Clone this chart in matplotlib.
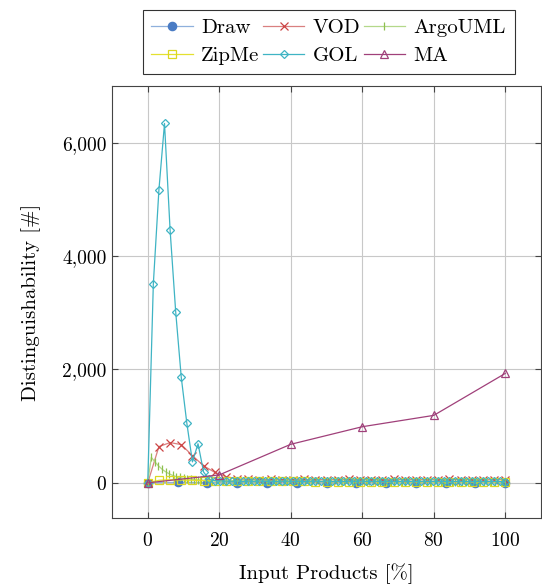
import numpy as np
import matplotlib
matplotlib.use("Agg")
import matplotlib.pyplot as plt
from matplotlib.ticker import FuncFormatter

plt.rcParams["font.family"] = ["cmr10", "DejaVu Serif"]
plt.rcParams["axes.formatter.use_mathtext"] = True
plt.rcParams["mathtext.fontset"] = "cm"

# values, x spread evenly from 0 to 100 %
draw = [0, 8, 6, 5, 4, 4, 3, 3, 2, 2, 2, 1, 1]
vod = [0, 640, 710, 675, 480, 300, 185, 110, 70, 60, 58, 60, 55, 58, 60, 56,
       58, 55, 60, 57, 58, 55, 60, 56, 58, 55, 57, 60, 56, 58, 55, 57, 55]
argouml = [0, 450, 370, 300, 240, 195, 160, 130, 110, 95, 82, 72, 64, 57, 52,
           48, 45, 42, 40, 38, 36, 35, 34, 33, 33, 32, 32, 31, 31, 30, 30, 30,
           29, 29, 29, 28, 28, 28, 28, 27, 27, 27, 27, 27, 26, 26, 26, 26, 26,
           26, 25, 25, 25, 25, 25, 25, 25, 24, 24, 24, 24, 24, 24, 24, 24, 23,
           23, 23, 23, 23, 23, 23, 23, 23, 22, 22, 22, 22, 22, 22, 22, 22, 22,
           22, 21, 21, 21, 21, 21, 21, 21, 21, 21, 21, 21, 20, 20, 20, 20, 20, 20]
zipme = [0, 45, 55, 50, 45, 40, 35, 30, 28, 27, 26, 25, 25, 24, 24, 23, 23,
         22, 22, 22, 21, 21, 21, 20, 20, 20, 20, 19, 19, 19, 19, 18, 18]
gol = [0, 3510, 5170, 6340, 4460, 3020, 1860, 1050, 370, 690, 190, 60, 40, 35,
       30, 28, 32, 25, 30, 27, 31, 26, 29, 24, 28, 30, 26, 27, 25, 29, 28, 26,
       30, 24, 27, 25, 28, 26, 29, 27, 25, 28, 24, 26, 27, 25, 28, 26, 24, 27,
       25, 26, 28, 24, 26, 25, 27, 24, 26, 25, 24, 26, 25, 24, 20]
ma_x = [0, 20, 40, 60, 80, 100]
ma = [0, 140, 680, 990, 1190, 1930]

series = [
    ("Draw", np.linspace(0, 100, len(draw)), draw, "#8fb0dc", "#4a7cc4", "o", True),
    ("VOD", np.linspace(0, 100, len(vod)), vod, "#d98080", "#cc4444", "x", False),
    ("ArgoUML", np.linspace(0, 100, len(argouml)), argouml, "#b4d88a", "#8fc050", "|", False),
    ("ZipMe", np.linspace(0, 100, len(zipme)), zipme, "#e4e030", "#dcd820", "s", False),
    ("GOL", np.linspace(0, 100, len(gol)), gol, "#3fb4c4", "#3fb4c4", "D", False),
    ("MA", ma_x, ma, "#a0407a", "#a0407a", "^", False),
]

fig = plt.figure(figsize=(5.42, 5.88), dpi=100)
ax = fig.add_axes([112 / 542, 70 / 588, 429 / 542, 432 / 588])

handles = {}
for name, x, y, lc, mc, mk, filled in series:
    ms = 4.5 if mk == "D" else 6
    ln, = ax.plot(x, y, color=lc, lw=0.9, marker=mk, markersize=ms,
                  markeredgecolor=mc, markerfacecolor=mc if filled else "none",
                  markeredgewidth=0.9, label=name)
    handles[name] = ln

ax.set_xlim(-10, 110)
ax.set_ylim(-620, 7000)
ax.set_xticks([0, 20, 40, 60, 80, 100])
ax.set_yticks([0, 2000, 4000, 6000])
ax.yaxis.set_major_formatter(FuncFormatter(lambda v, p: f"{v:,.0f}"))
ax.grid(True, color="#c8c8c8", lw=0.8)
ax.set_axisbelow(True)
ax.tick_params(direction="in", labelsize=14, length=4, top=True, right=True,
               color="#444444")
ax.tick_params(axis="x", pad=10)
ax.tick_params(axis="y", pad=4)
for s in ax.spines.values():
    s.set_color("#444444")

ax.set_xlabel("Input Products [%]", fontsize=15, labelpad=10)
ax.set_ylabel("Distinguishability [#]", fontsize=15, labelpad=15)

# matplotlib fills legend columns first, so order for a row-wise look
order = ["Draw", "ZipMe", "VOD", "GOL", "ArgoUML", "MA"]
leg = ax.legend([handles[n] for n in order], order, ncol=3, loc="lower center",
                bbox_to_anchor=(0.505, 1.028), borderaxespad=0, fontsize=15,
                frameon=True, fancybox=False, edgecolor="black",
                handlelength=2.0, columnspacing=0.15, handletextpad=0.4,
                borderpad=0.42, labelspacing=0.45)
leg.get_frame().set_linewidth(0.8)

fig.savefig("out.png", dpi=100)
